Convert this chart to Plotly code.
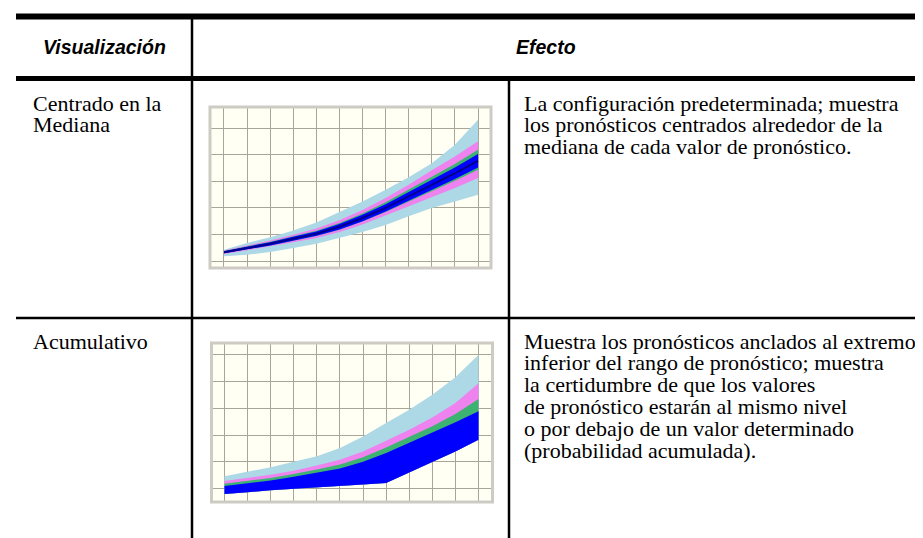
import plotly.graph_objects as go

W, H = 923, 538

# ---------------- data ----------------
steps = [0, 1, 2, 3, 4, 5, 6, 7, 8, 9, 10, 11]

# Chart 1: Centrado en la Mediana (bands around the median)
c1_median = [0.33, 0.49, 0.65, 0.84, 1.03, 1.29, 1.62, 2.00, 2.42, 2.86, 3.30, 3.77]
c1_blue_up = [0.37, 0.54, 0.71, 0.91, 1.11, 1.39, 1.74, 2.14, 2.59, 3.05, 3.52, 4.02]
c1_blue_lo = [0.29, 0.44, 0.59, 0.77, 0.95, 1.19, 1.50, 1.86, 2.25, 2.67, 3.08, 3.52]
c1_green_up = [0.38, 0.55, 0.73, 0.93, 1.14, 1.43, 1.79, 2.21, 2.68, 3.16, 3.65, 4.18]
c1_green_lo = [0.29, 0.44, 0.59, 0.76, 0.94, 1.18, 1.49, 1.84, 2.23, 2.63, 3.02, 3.43]
c1_pink_up = [0.40, 0.58, 0.77, 0.99, 1.22, 1.53, 1.92, 2.37, 2.87, 3.41, 3.93, 4.50]
c1_pink_lo = [0.27, 0.41, 0.55, 0.71, 0.87, 1.09, 1.37, 1.69, 2.04, 2.40, 2.75, 3.12]
c1_lb_up = [0.43, 0.68, 0.90, 1.15, 1.45, 1.84, 2.24, 2.68, 3.15, 3.68, 4.37, 5.31]
c1_lb_lo = [0.18, 0.24, 0.34, 0.49, 0.65, 0.86, 1.09, 1.36, 1.68, 1.99, 2.24, 2.49]

# Chart 2: Acumulativo (bands anchored to the low end)
c2_base = [-0.20, -0.14, -0.06, -0.02, 0.04, 0.10, 0.15, 0.21, 0.59, 1.00, 1.39, 1.83]
c2_blue = [0.10, 0.19, 0.30, 0.44, 0.59, 0.75, 1.00, 1.33, 1.71, 2.08, 2.48, 2.89]
c2_green = [0.18, 0.28, 0.40, 0.55, 0.71, 0.90, 1.17, 1.54, 1.92, 2.33, 2.79, 3.35]
c2_pink = [0.28, 0.39, 0.52, 0.67, 0.86, 1.08, 1.39, 1.79, 2.20, 2.66, 3.20, 3.94]
c2_lb = [0.46, 0.62, 0.80, 1.00, 1.21, 1.52, 1.95, 2.45, 2.95, 3.51, 4.16, 5.00]

# Table text
header_left = "Visualización"
header_right = "Efecto"
row1_label = ["Centrado en la", "Mediana"]
row1_text = [
    "La configuración predeterminada; muestra",
    "los pronósticos centrados alrededor de la",
    "mediana de cada valor de pronóstico.",
]
row2_label = ["Acumulativo"]
row2_text = [
    "Muestra los pronósticos anclados al extremo",
    "inferior del rango de pronóstico; muestra",
    "la certidumbre de que los valores",
    "de pronóstico estarán al mismo nivel",
    "o por debajo de un valor determinado",
    "(probabilidad acumulada).",
]

C_LB = "#add8e6"
C_PINK = "#ee82ee"
C_GREEN = "#3cb371"
C_BLUE = "#0000ff"
C_MED = "#00008b"


def px(x):
    return x / W


def py(y):
    return 1 - y / H


fig = go.Figure()


def band(lo, up, color, xa, ya):
    fig.add_trace(go.Scatter(
        x=steps + steps[::-1], y=up + lo[::-1], fill="toself", fillcolor=color,
        mode="lines", line=dict(width=0, color=color), xaxis=xa, yaxis=ya,
        hoverinfo="skip", showlegend=False))


# chart 1
band(c1_lb_lo, c1_lb_up, C_LB, "x", "y")
band(c1_pink_lo, c1_pink_up, C_PINK, "x", "y")
band(c1_green_lo, c1_green_up, C_GREEN, "x", "y")
band(c1_blue_lo, c1_blue_up, C_BLUE, "x", "y")
fig.add_trace(go.Scatter(x=steps, y=c1_median, mode="lines",
                         line=dict(color=C_MED, width=2), xaxis="x", yaxis="y",
                         hoverinfo="skip", showlegend=False))

# chart 2
band(c2_base, c2_lb, C_LB, "x2", "y2")
band(c2_base, c2_pink, C_PINK, "x2", "y2")
band(c2_base, c2_green, C_GREEN, "x2", "y2")
band(c2_base, c2_blue, C_BLUE, "x2", "y2")

axis_common = dict(showticklabels=False, ticks="", showgrid=True,
                   gridcolor="#a9a698", gridwidth=1, zeroline=False,
                   showline=False, dtick=1, tick0=0, fixedrange=True)

fig.update_layout(
    width=W, height=H, autosize=False,
    margin=dict(l=0, r=0, t=0, b=0),
    paper_bgcolor="white", plot_bgcolor="#fffff3",
    showlegend=False,
    xaxis=dict(domain=[px(202), px(483)], range=[-0.606, 11.563], anchor="y", **axis_common),
    yaxis=dict(domain=[py(260), py(99)], range=[-0.26, 5.79], anchor="x", **axis_common),
    xaxis2=dict(domain=[px(203.5), px(484.5)], range=[-0.563, 11.606], anchor="y2", **axis_common),
    yaxis2=dict(domain=[py(494), py(335)], range=[-0.50, 5.44], anchor="x2", **axis_common),
)

shapes = []
# plot borders
for xr, yr in (("x domain", "y domain"), ("x2 domain", "y2 domain")):
    shapes.append(dict(type="rect", xref=xr, yref=yr, x0=0, x1=1, y0=0, y1=1,
                       line=dict(color="#cdcbc3", width=3), layer="above"))


def hline(y, x0, x1, w):
    shapes.append(dict(type="line", xref="paper", yref="paper",
                       x0=px(x0), x1=px(x1), y0=py(y), y1=py(y),
                       line=dict(color="black", width=w)))


def vline(x, y0, y1, w):
    shapes.append(dict(type="line", xref="paper", yref="paper",
                       x0=px(x), x1=px(x), y0=py(y0), y1=py(y1),
                       line=dict(color="black", width=w)))


hline(8.5, 8, 923, 6)
hline(70.5, 8, 923, 5)
hline(310, 8, 923, 2.5)
vline(184, 8, 538, 2.5)
vline(501, 70, 538, 2.5)

fig.update_layout(shapes=shapes)

annotations = []
SERIF = "Liberation Serif, Times New Roman, serif"
SANS = "Liberation Sans, Arial, sans-serif"
FS = 22


def text_line(s, x, baseline, size=FS, family=SERIF, anchor="left"):
    center = baseline - 0.3375 * size
    annotations.append(dict(text=s, x=px(x), y=py(center), xref="paper", yref="paper",
                            xanchor=anchor, yanchor="middle", showarrow=False,
                            borderpad=0, font=dict(family=family, size=size, color="black")))


# headers
text_line("<b><i>" + header_left + "</i></b>", 96, 46, size=19.5, family=SANS, anchor="center")
text_line("<b><i>" + header_right + "</i></b>", 538, 46, size=19.5, family=SANS, anchor="center")

LS = 21.9
for i, s in enumerate(row1_label):
    text_line(s, 24, 102.5 + i * LS)
for i, s in enumerate(row1_text):
    text_line(s, 515, 102.5 + i * LS)
for i, s in enumerate(row2_label):
    text_line(s, 24, 340.5 + i * LS)
for i, s in enumerate(row2_text):
    text_line(s, 515, 340.5 + i * LS)

fig.update_layout(annotations=annotations)

fig.write_html("out.html")
